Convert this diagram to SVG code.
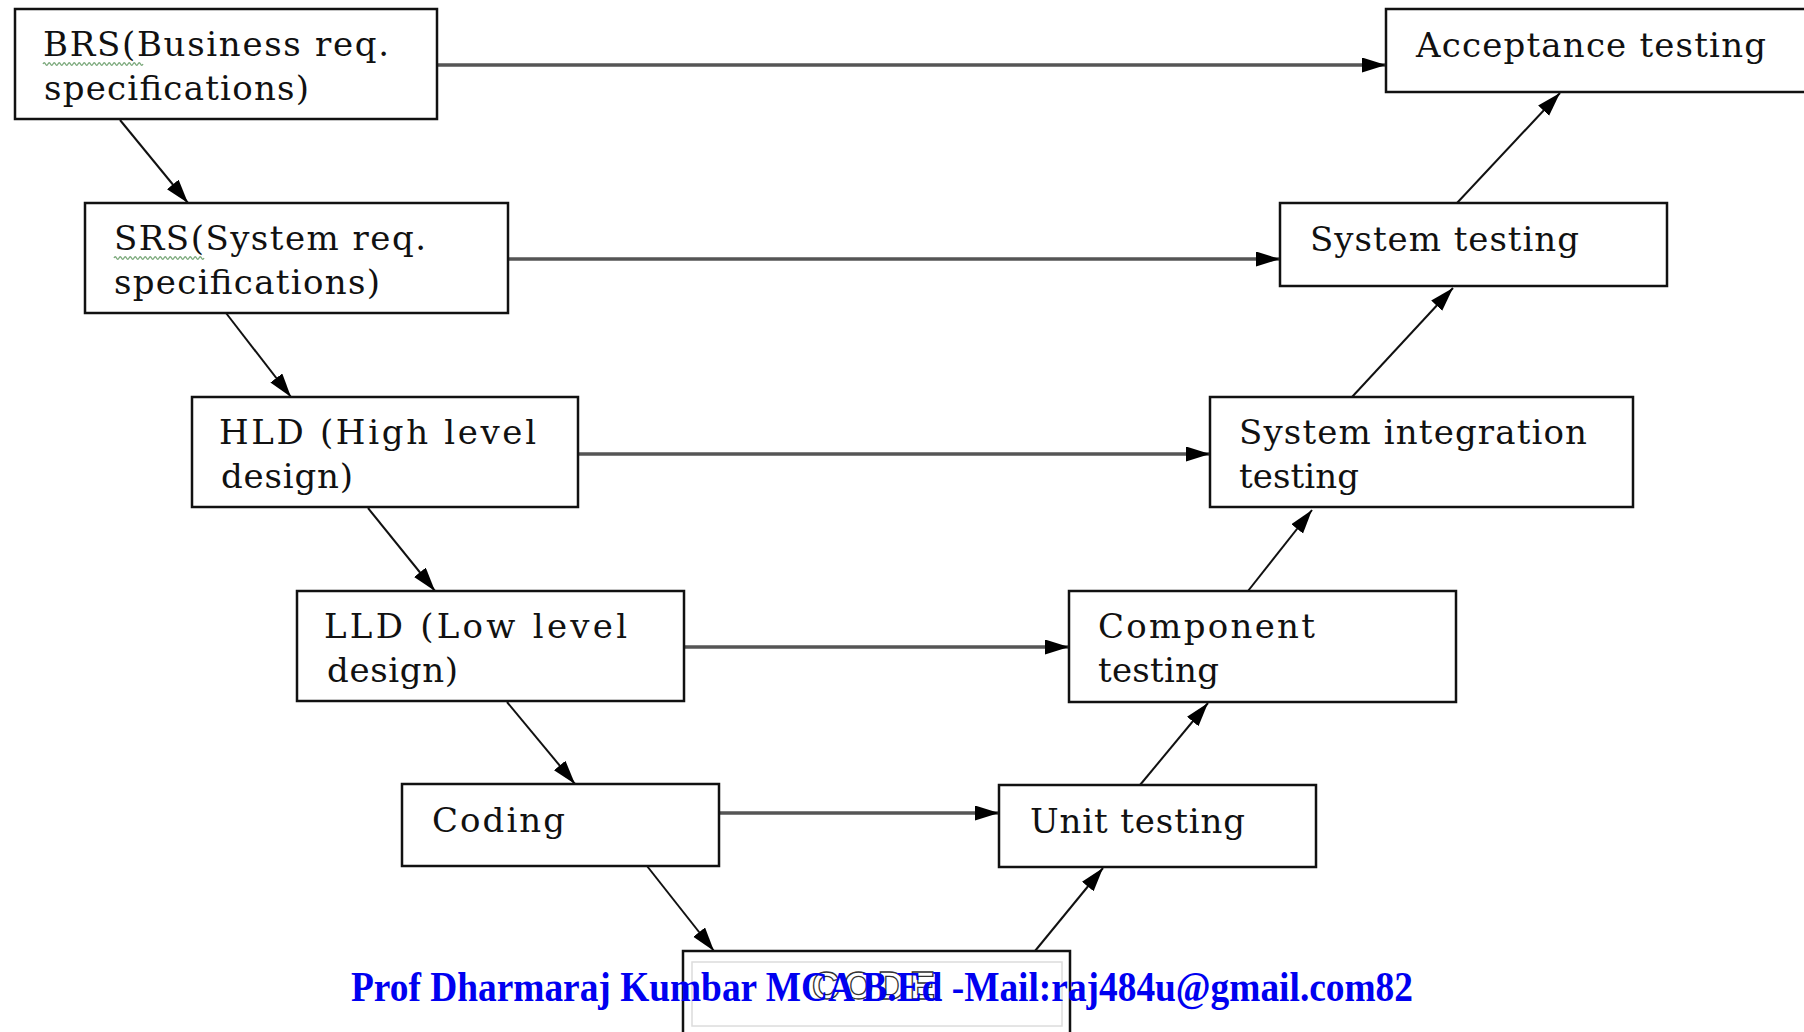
<svg xmlns="http://www.w3.org/2000/svg" width="1804" height="1032" viewBox="0 0 1804 1032">
<style>
.box{fill:#fff;stroke:#111;stroke-width:2.5}
.t{font-family:"DejaVu Serif","Liberation Serif",serif;font-size:34px;fill:#111}
.h{stroke:#555;stroke-width:3.5;fill:none}
.d{stroke:#111;stroke-width:2;fill:none}
.wave{stroke:#7aa87a;stroke-width:1.3;fill:none}
.credit{font-family:"Liberation Serif","Times New Roman",serif;font-weight:bold;font-size:42px;fill:#0000f0}
</style>
<defs>
<marker id="ah" markerUnits="userSpaceOnUse" markerWidth="26" markerHeight="16" refX="24" refY="7.5" orient="auto">
<path d="M0,0 L24,7.5 L0,15 z" fill="#000"/>
</marker>
</defs>
<rect width="1804" height="1032" fill="#fff"/>

<g id="connectors">
<line class="h" x1="437" y1="65" x2="1386" y2="65" marker-end="url(#ah)"/>
<line class="h" x1="508" y1="259" x2="1280" y2="259" marker-end="url(#ah)"/>
<line class="h" x1="578" y1="454" x2="1210" y2="454" marker-end="url(#ah)"/>
<line class="h" x1="684" y1="647" x2="1069" y2="647" marker-end="url(#ah)"/>
<line class="h" x1="719" y1="813" x2="999" y2="813" marker-end="url(#ah)"/>
<line class="d" x1="120" y1="120" x2="188" y2="203" marker-end="url(#ah)"/>
<line class="d" x1="226" y1="313" x2="291" y2="397" marker-end="url(#ah)"/>
<line class="d" x1="368" y1="508" x2="435" y2="591" marker-end="url(#ah)"/>
<line class="d" x1="507" y1="702" x2="575" y2="784" marker-end="url(#ah)"/>
<line class="d" x1="647" y1="866" x2="714" y2="951" marker-end="url(#ah)"/>
<line class="d" x1="1035" y1="951" x2="1103" y2="868" marker-end="url(#ah)"/>
<line class="d" x1="1140" y1="785" x2="1208" y2="703" marker-end="url(#ah)"/>
<line class="d" x1="1248" y1="591" x2="1312" y2="510" marker-end="url(#ah)"/>
<line class="d" x1="1352" y1="397" x2="1453" y2="288" marker-end="url(#ah)"/>
<line class="d" x1="1457" y1="203" x2="1560" y2="93" marker-end="url(#ah)"/>
</g>

<g id="brs">
<rect class="box" x="15" y="9" width="422" height="110"/>
<text class="t" x="43" y="56" textLength="346">BRS(Business req.</text>
<text class="t" x="44" y="100" textLength="265">specifications)</text>
<path class="wave" d="M43,64 q1.25,-2.5 2.5,0 t2.5,0 t2.5,0 t2.5,0 t2.5,0 t2.5,0 t2.5,0 t2.5,0 t2.5,0 t2.5,0 t2.5,0 t2.5,0 t2.5,0 t2.5,0 t2.5,0 t2.5,0 t2.5,0 t2.5,0 t2.5,0 t2.5,0 t2.5,0 t2.5,0 t2.5,0 t2.5,0 t2.5,0 t2.5,0 t2.5,0 t2.5,0 t2.5,0 t2.5,0 t2.5,0 t2.5,0 t2.5,0 t2.5,0 t2.5,0 t2.5,0 t2.5,0 t2.5,0 t2.5,0 t2.5,0"/>
</g>

<g id="srs">
<rect class="box" x="85" y="203" width="423" height="110"/>
<text class="t" x="114" y="250" textLength="312">SRS(System req.</text>
<text class="t" x="114" y="294" textLength="266">specifications)</text>
<path class="wave" d="M114,258 q1.25,-2.5 2.5,0 t2.5,0 t2.5,0 t2.5,0 t2.5,0 t2.5,0 t2.5,0 t2.5,0 t2.5,0 t2.5,0 t2.5,0 t2.5,0 t2.5,0 t2.5,0 t2.5,0 t2.5,0 t2.5,0 t2.5,0 t2.5,0 t2.5,0 t2.5,0 t2.5,0 t2.5,0 t2.5,0 t2.5,0 t2.5,0 t2.5,0 t2.5,0 t2.5,0 t2.5,0 t2.5,0 t2.5,0 t2.5,0 t2.5,0 t2.5,0 t2.5,0"/>
</g>

<g id="hld">
<rect class="box" x="192" y="397" width="386" height="110"/>
<text class="t" x="219" y="444" textLength="317">HLD (High level</text>
<text class="t" x="221" y="488" textLength="132">design)</text>
</g>

<g id="lld">
<rect class="box" x="297" y="591" width="387" height="110"/>
<text class="t" x="324" y="638" textLength="303">LLD (Low level</text>
<text class="t" x="327" y="682" textLength="131">design)</text>
</g>

<g id="coding">
<rect class="box" x="402" y="784" width="317" height="82"/>
<text class="t" x="432" y="832" textLength="133">Coding</text>
</g>

<g id="code">
<rect class="box" x="683" y="951" width="387" height="100"/>
<rect x="692" y="962" width="370" height="64" fill="none" stroke="#dcdcdc" stroke-width="1.5"/>
<text x="812" y="999" textLength="123" font-family="Liberation Sans, Arial, sans-serif" font-weight="bold" font-size="38" fill="#fff" stroke="#333" stroke-width="1.3">CODE</text>
</g>

<g id="unit-testing">
<rect class="box" x="999" y="785" width="317" height="82"/>
<text class="t" x="1030" y="833" textLength="215">Unit testing</text>
</g>

<g id="component-testing">
<rect class="box" x="1069" y="591" width="387" height="111"/>
<text class="t" x="1098" y="638" textLength="217">Component</text>
<text class="t" x="1098" y="682" textLength="121">testing</text>
</g>

<g id="system-integration-testing">
<rect class="box" x="1210" y="397" width="423" height="110"/>
<text class="t" x="1239" y="444" textLength="348">System integration</text>
<text class="t" x="1239" y="488" textLength="120">testing</text>
</g>

<g id="system-testing">
<rect class="box" x="1280" y="203" width="387" height="83"/>
<text class="t" x="1310" y="251" textLength="269">System testing</text>
</g>

<g id="acceptance-testing">
<rect class="box" x="1386" y="9" width="424" height="83"/>
<text class="t" x="1416" y="57" textLength="350">Acceptance testing</text>
</g>

<text class="credit" x="351" y="1001" textLength="1062" lengthAdjust="spacingAndGlyphs">Prof Dharmaraj Kumbar MCA B.Ed -Mail:raj484u@gmail.com82</text>
</svg>
